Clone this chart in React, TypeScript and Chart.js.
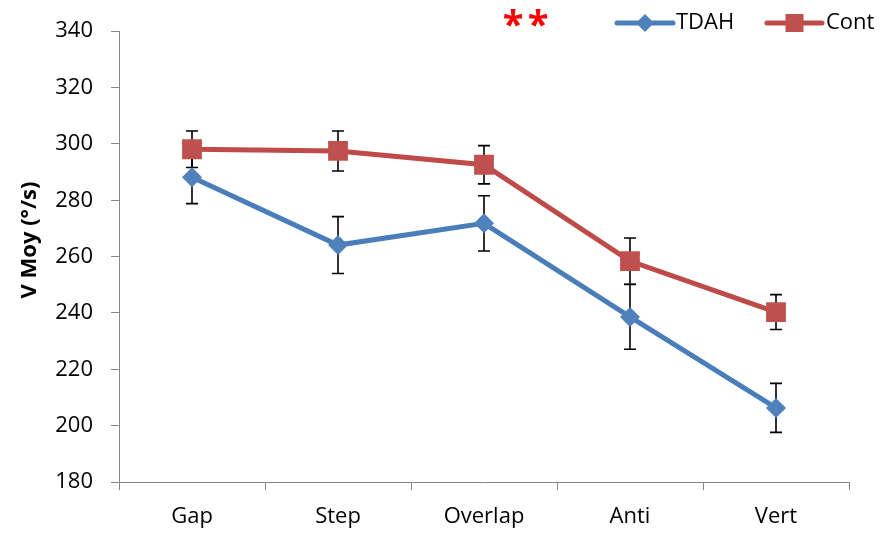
import React, { useEffect, useRef } from 'react';
import { Chart, registerables } from 'chart.js';

Chart.register(...registerables);

const categories = ['Gap', 'Step', 'Overlap', 'Anti', 'Vert'];
const seriesNames = ['TDAH', 'Cont'];
const tdahValues = [288.2, 264.1, 271.8, 238.6, 206.3];
const tdahErrors = [9.4, 10.1, 9.8, 11.5, 8.7];
const contValues = [298.1, 297.5, 292.6, 258.4, 240.3];
const contErrors = [6.5, 7.1, 6.8, 8.2, 6.2];
const yMin = 180;
const yMax = 340;
const yStep = 20;
const yTitle = 'V Moy (°/s)';
const significance = ['*', '*'];

const BLUE_LINE = '#4A7EBB';
const BLUE_FILL = '#4F81BD';
const RED_LINE = '#BE4B48';
const RED_FILL = '#C0504D';
const AXIS = '#868686';
const FONT = "'Open Sans', sans-serif";

const errorsByDataset = [tdahErrors, contErrors];

const errorBarPlugin = {
  id: 'errorBars',
  beforeDatasetsDraw(chart: any) {
    const ctx = chart.ctx;
    const ys = chart.scales.y;
    ctx.save();
    ctx.strokeStyle = '#000';
    ctx.lineWidth = 1.6;
    chart.data.datasets.forEach((ds: any, di: number) => {
      const errs = errorsByDataset[di];
      const meta = chart.getDatasetMeta(di);
      meta.data.forEach((pt: any, i: number) => {
        const v = ds.data[i];
        const e = errs[i];
        const yt = ys.getPixelForValue(v + e);
        const yb = ys.getPixelForValue(v - e);
        ctx.beginPath();
        ctx.moveTo(pt.x, yt);
        ctx.lineTo(pt.x, yb);
        ctx.moveTo(pt.x - 6, yt);
        ctx.lineTo(pt.x + 6, yt);
        ctx.moveTo(pt.x - 6, yb);
        ctx.lineTo(pt.x + 6, yb);
        ctx.stroke();
      });
    });
    ctx.restore();
  },
};

const decorPlugin = {
  id: 'decor',
  afterDraw(chart: any) {
    const ctx = chart.ctx;
    ctx.save();
    // Y axis title
    ctx.font = `bold 22px ${FONT}`;
    ctx.fillStyle = '#000';
    ctx.textAlign = 'center';
    ctx.textBaseline = 'middle';
    ctx.translate(30, 240);
    ctx.rotate(-Math.PI / 2);
    ctx.fillText(yTitle, 0, 0);
    ctx.restore();

    // significance stars
    ctx.save();
    ctx.font = `bold 38px ${FONT}`;
    ctx.fillStyle = '#FF0000';
    ctx.textAlign = 'center';
    ctx.textBaseline = 'alphabetic';
    const starCenters = [513, 538];
    significance.forEach((s, i) => {
      const m = ctx.measureText(s);
      ctx.fillText(s, starCenters[i], 9 + m.actualBoundingBoxAscent);
    });
    ctx.restore();

    // legend
    ctx.save();
    const ly = 23;
    const items = [
      { x0: 617, x1: 673, line: BLUE_LINE, fill: BLUE_FILL, shape: 'diamond', tx: 676 },
      { x0: 767, x1: 822, line: RED_LINE, fill: RED_FILL, shape: 'square', tx: 826 },
    ];
    items.forEach((it, i) => {
      ctx.strokeStyle = it.line;
      ctx.lineWidth = 5;
      ctx.lineCap = 'round';
      ctx.beginPath();
      ctx.moveTo(it.x0, ly);
      ctx.lineTo(it.x1, ly);
      ctx.stroke();
      const cx = (it.x0 + it.x1) / 2;
      ctx.fillStyle = it.fill;
      ctx.beginPath();
      if (it.shape === 'diamond') {
        ctx.moveTo(cx, ly - 9);
        ctx.lineTo(cx + 9, ly);
        ctx.lineTo(cx, ly + 9);
        ctx.lineTo(cx - 9, ly);
        ctx.closePath();
      } else {
        ctx.rect(cx - 9, ly - 9, 18, 18);
      }
      ctx.fill();
      ctx.fillStyle = '#000';
      ctx.font = `22px ${FONT}`;
      ctx.textAlign = 'left';
      ctx.textBaseline = 'middle';
      ctx.fillText(chart.data.datasets[i].label, it.tx, ly);
    });
    ctx.restore();
  },
};

export default function App() {
  const ref = useRef<HTMLCanvasElement>(null);

  useEffect(() => {
    if (!ref.current) return;
    const chart = new Chart(ref.current, {
      type: 'line',
      data: {
        labels: categories,
        datasets: [
          {
            label: seriesNames[0],
            data: tdahValues,
            borderColor: BLUE_LINE,
            backgroundColor: BLUE_FILL,
            borderWidth: 5,
            pointStyle: 'rectRot',
            pointRadius: 10,
            pointBorderWidth: 0,
            pointBackgroundColor: BLUE_FILL,
            tension: 0,
            order: 2,
          },
          {
            label: seriesNames[1],
            data: contValues,
            borderColor: RED_LINE,
            backgroundColor: RED_FILL,
            borderWidth: 5,
            pointStyle: 'rect',
            pointRadius: 14,
            pointBorderWidth: 0,
            pointBackgroundColor: RED_FILL,
            tension: 0,
            order: 1,
          },
        ],
      },
      options: {
        responsive: false,
        animation: false,
        events: [],
        layout: { padding: { top: 30, right: 39, left: 0, bottom: 0 } },
        plugins: {
          legend: { display: false },
          tooltip: { enabled: false },
          title: { display: false },
        },
        scales: {
          x: {
            type: 'category',
            offset: true,
            grid: {
              offset: true,
              drawOnChartArea: false,
              drawTicks: true,
              tickLength: 8,
              color: AXIS,
            },
            border: { display: true, color: AXIS, width: 1 },
            ticks: {
              color: '#000',
              padding: 14,
              font: { family: FONT, size: 22 },
              maxRotation: 0,
            },
            afterFit: (s: any) => {
              s.height = 51;
            },
          },
          y: {
            min: yMin,
            max: yMax,
            grid: {
              drawOnChartArea: false,
              drawTicks: true,
              tickLength: 8,
              color: AXIS,
            },
            border: { display: true, color: AXIS, width: 1 },
            ticks: {
              stepSize: yStep,
              color: '#000',
              padding: 18,
              font: { family: FONT, size: 22 },
            },
            afterFit: (s: any) => {
              s.width = 119;
            },
          },
        },
      },
      plugins: [errorBarPlugin, decorPlugin],
    });
    return () => chart.destroy();
  }, []);

  return (
    <div style={{ position: 'fixed', left: 0, top: 0, width: 888, height: 533, background: '#fff' }}>
      <canvas ref={ref} width={888} height={533} style={{ display: 'block' }} />
    </div>
  );
}
